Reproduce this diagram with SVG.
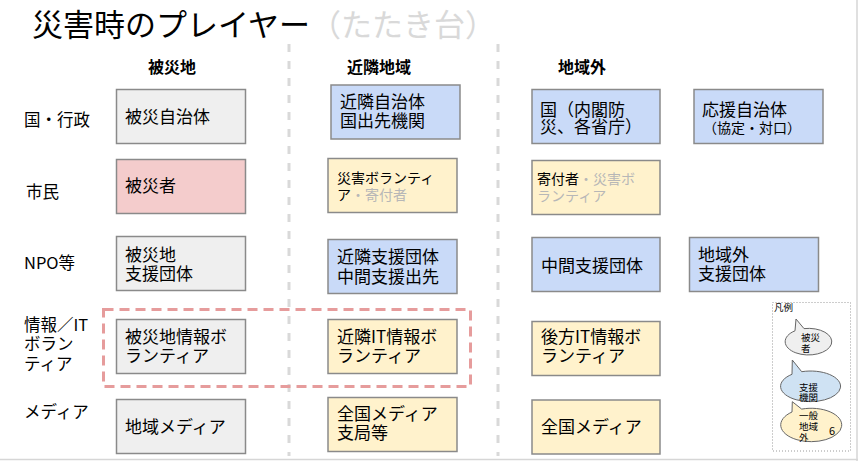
<svg xmlns="http://www.w3.org/2000/svg" width="858" height="461" viewBox="0 0 858 461">
<style>
text{font-family:"Noto Sans CJK JP","Noto Sans",sans-serif;fill:#000}
.t{font-size:17px}
.s{font-size:14px}
.lab{font-size:16.5px}
.h{font-size:16px;font-weight:bold}
.g{fill:#b7b7b7}
.box{stroke:#8a8a8a;stroke-width:1.5}
.gray{fill:#efefef}
.pink{fill:#f4cccc}
.blue{fill:#c9daf8}
.yel{fill:#fff2cc}
.sep{stroke:#d9d9d9;stroke-width:3;stroke-dasharray:8 9;fill:none}
.leg{font-size:9.5px}
.bub{stroke:#666;stroke-width:1}
</style>
<rect x="0" y="0" width="858" height="461" fill="#fff"/>
<line x1="857" y1="0" x2="857" y2="461" stroke="#d6d6d6" stroke-width="1.5"/>
<line x1="0" y1="459.5" x2="858" y2="459.5" stroke="#d6d6d6" stroke-width="1.5"/>

<g id="title">
<text x="32" y="36" font-size="31px">災害時のプレイヤー<tspan fill="#d9d9d9">（たたき台）</tspan></text>
</g>

<g id="separators">
<line class="sep" x1="289" y1="44" x2="289" y2="456"/>
<line class="sep" x1="498" y1="44" x2="498" y2="456"/>
</g>

<g id="headers">
<text class="h" x="148" y="73">被災地</text>
<text class="h" x="347" y="73">近隣地域</text>
<text class="h" x="558" y="73">地域外</text>
</g>

<g id="rowlabels">
<text class="lab" x="24" y="126">国・行政</text>
<text class="lab" x="26" y="198">市民</text>
<text class="lab" x="24" y="269">NPO等</text>
<text class="lab" x="24" y="331">情報／IT</text>
<text class="lab" x="24" y="350">ボラン</text>
<text class="lab" x="24" y="370">ティア</text>
<text class="lab" x="24" y="418">メディア</text>
</g>

<g id="it-group">
<rect x="103.5" y="309.5" width="367" height="77" fill="none" stroke="#e69c9c" stroke-width="3" stroke-dasharray="10 6"/>
</g>

<g id="n-hisai-jichitai">
<rect class="box gray" x="116.5" y="89.5" width="129" height="54"/>
<text class="t" x="125" y="123">被災自治体</text>
</g>
<g id="n-hisaisha">
<rect class="box pink" x="116.5" y="159.5" width="129" height="54"/>
<text class="t" x="125" y="191.5">被災者</text>
</g>
<g id="n-hisaichi-shien">
<rect class="box gray" x="116.5" y="236.5" width="129" height="54"/>
<text class="t" x="125" y="260.5">被災地</text>
<text class="t" x="125" y="279.5">支援団体</text>
</g>
<g id="n-hisaichi-joho">
<rect class="box gray" x="116.5" y="319.5" width="129" height="54"/>
<text class="t" x="125" y="342.5">被災地情報ボ</text>
<text class="t" x="125" y="361.5">ランティア</text>
</g>
<g id="n-chiiki-media">
<rect class="box gray" x="116.5" y="399.5" width="129" height="54"/>
<text class="t" x="125" y="432.5">地域メディア</text>
</g>

<g id="n-kinrin-jichitai">
<rect class="box blue" x="331" y="85" width="129" height="54"/>
<text class="t" x="340" y="107.5">近隣自治体</text>
<text class="t" x="340" y="126.5">国出先機関</text>
</g>
<g id="n-saigai-vol">
<rect class="box yel" x="328" y="158.5" width="129" height="54"/>
<text class="s" x="337" y="182.5">災害ボランティ</text>
<text class="s" x="337" y="200">ア<tspan class="g">・寄付者</tspan></text>
</g>
<g id="n-kinrin-shien">
<rect class="box blue" x="328" y="239.5" width="129" height="54"/>
<text class="t" x="337" y="262.5">近隣支援団体</text>
<text class="t" x="337" y="282.5">中間支援出先</text>
</g>
<g id="n-kinrin-it">
<rect class="box yel" x="328" y="319.5" width="129" height="54"/>
<text class="t" x="337" y="342.5">近隣IT情報ボ</text>
<text class="t" x="337" y="361.5">ランティア</text>
</g>
<g id="n-zenkoku-shikyoku">
<rect class="box yel" x="328" y="397.5" width="129" height="54"/>
<text class="t" x="337" y="419.5">全国メディア</text>
<text class="t" x="337" y="438.5">支局等</text>
</g>

<g id="n-kuni">
<rect class="box blue" x="532" y="89.5" width="128" height="54"/>
<text class="t" x="540" y="115.5">国（内閣防</text>
<text class="t" x="540" y="132.5">災、各省庁）</text>
</g>
<g id="n-ouen-jichitai">
<rect class="box blue" x="694" y="89.5" width="129" height="54"/>
<text class="t" x="702" y="115.5">応援自治体</text>
<text class="s" x="703" y="132.5">（協定・対口）</text>
</g>
<g id="n-kifusha">
<rect class="box yel" x="532" y="160.5" width="128" height="54"/>
<text class="s" x="537" y="183.5" font-size="15px">寄付者<tspan class="g">・災害ボ</tspan></text>
<text class="s g" x="537" y="200.5" font-size="15px">ランティア</text>
</g>
<g id="n-chukan-shien">
<rect class="box blue" x="532" y="237.5" width="128" height="54"/>
<text class="t" x="541" y="271.5">中間支援団体</text>
</g>
<g id="n-chiikigai-shien">
<rect class="box blue" x="689.5" y="237.5" width="129" height="54"/>
<text class="t" x="698" y="260.5">地域外</text>
<text class="t" x="698" y="279.5">支援団体</text>
</g>
<g id="n-koho-it">
<rect class="box yel" x="532" y="321.5" width="128" height="54"/>
<text class="t" x="541" y="342.5">後方IT情報ボ</text>
<text class="t" x="541" y="362">ランティア</text>
</g>
<g id="n-zenkoku-media">
<rect class="box yel" x="532" y="400" width="128" height="54"/>
<text class="t" x="541" y="432.5">全国メディア</text>
</g>

<g id="connectors"></g>

<g id="legend">
<rect x="772.5" y="302.5" width="78" height="148.5" fill="none" stroke="#9a9a9a" stroke-width="1" stroke-dasharray="1 2"/>
<text class="leg" x="774" y="311">凡例</text>
<path class="bub" fill="#efefef" d="M795,330.8 L796,319 L804,328.6 A23.3 13.3 0 1 1 795,330.8 Z"/>
<text class="leg" x="801" y="341">被災</text>
<text class="leg" x="801" y="352">者</text>
<path class="bub" fill="#cfe2f3" d="M792,374.3 L792.3,360 L801.7,371.7 A30 15.3 0 1 1 792,374.3 Z"/>
<text class="leg" x="799" y="390.5">支援</text>
<text class="leg" x="799" y="400.5">機関</text>
<path class="bub" fill="#fff2cc" d="M792,412 L792.3,401.7 L801.7,409.1 A30.5 16.7 0 1 1 792,412 Z"/>
<text class="leg" x="799" y="418.5">一般</text>
<text class="leg" x="799" y="429.5">地域</text>
<text class="leg" x="799" y="440.5">外</text>
<text x="829" y="435" font-size="11px" fill="#444">6</text>
</g>
</svg>
